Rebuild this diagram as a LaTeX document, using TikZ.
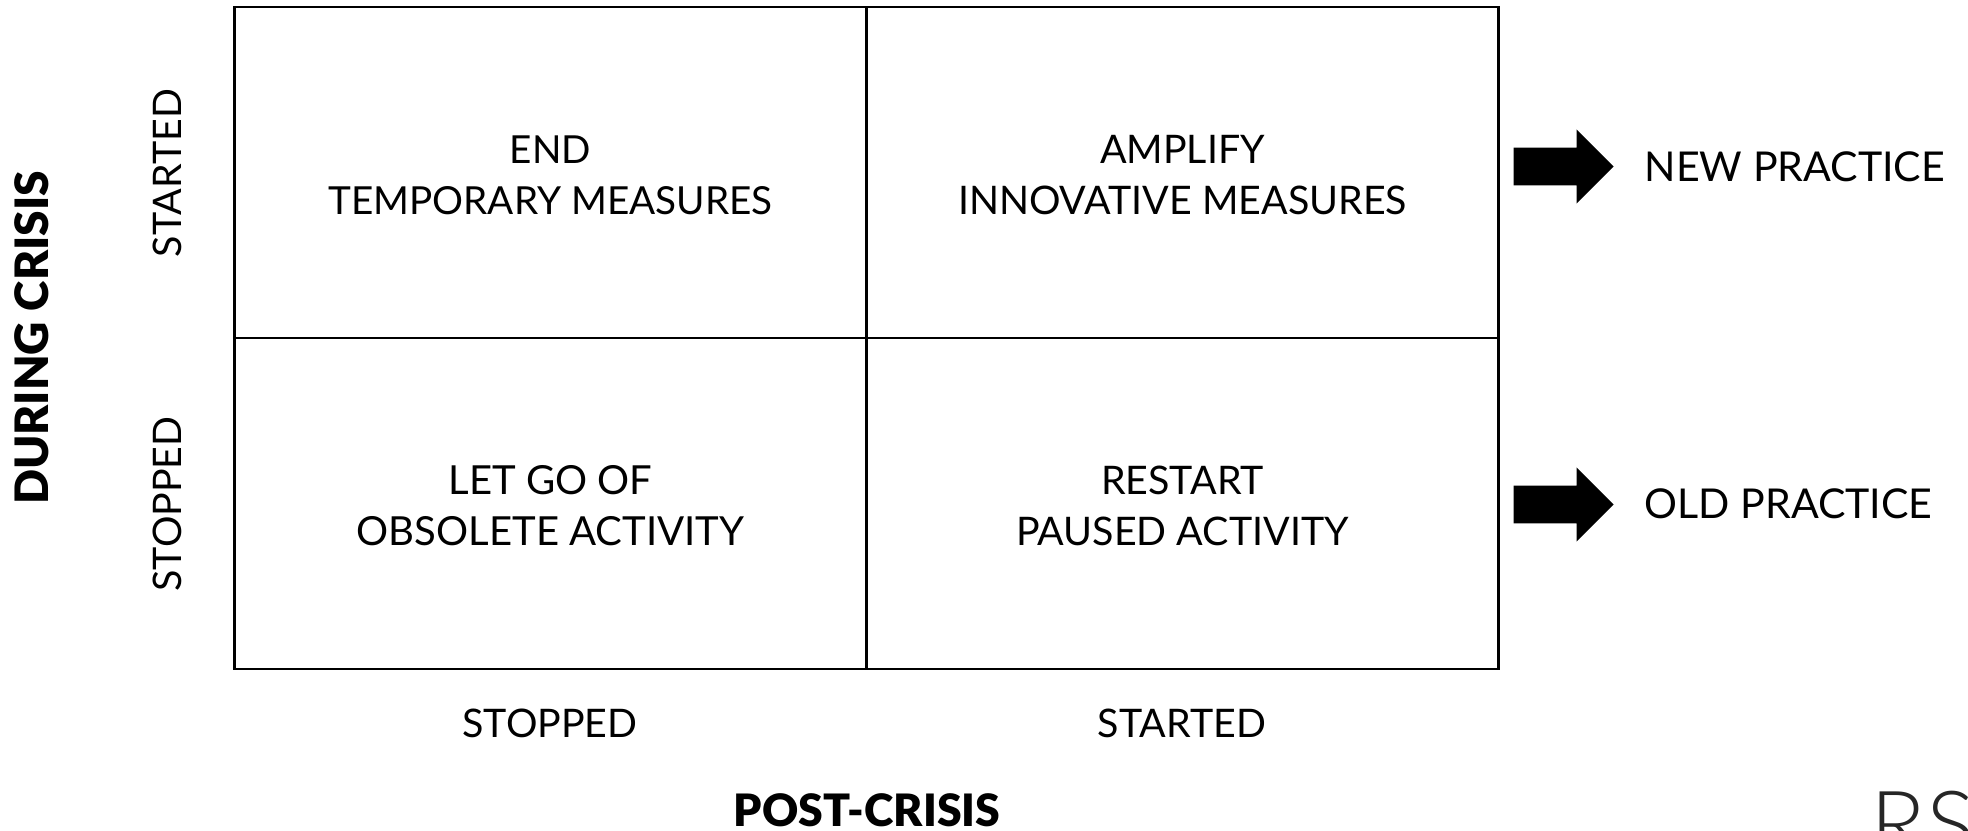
\documentclass[tikz,border=0pt]{standalone}
\usepackage{fontspec}
\setmainfont{Lato}
\newfontfamily\logofont{Lato Light}
\newfontfamily\axisfont{Lato Black}
\usetikzlibrary{shapes.arrows}

\begin{document}
\begin{tikzpicture}
		[auto,
		cell/.style ={rectangle, draw=black, line width=.6pt, minimum width=6.32cm, minimum height=3.31cm, inner sep=0pt, align=center, text height=23.8pt, text depth=0pt, font=\fontsize{11.2}{14.5}\selectfont},
		plain/.style ={inner sep=0pt, font=\fontsize{11.2}{14.5}\selectfont},
		practice/.style ={plain, anchor=west, font=\fontsize{11.7}{14.5}\selectfont},
		axis/.style ={inner sep=0pt, font=\axisfont\fontsize{12.7}{14.5}\selectfont},
		bigarrow/.style ={shape=single arrow, fill=black, anchor=tail, inner xsep=0pt, inner ysep=.1825cm, minimum height=1cm, single arrow head extend=.1825cm, single arrow tip angle=90, single arrow head indent=0pt},
		]

		\useasboundingbox (0,0) rectangle (19.68,8.3);

		\draw (5.505,6.575) node[cell,font=\fontsize{11}{14.5}\selectfont] (End) {END\\TEMPORARY MEASURES};
		\draw (11.825,6.575) node[cell] (Amplify) {AMPLIFY\\INNOVATIVE MEASURES};
		\draw (5.505,3.265) node[cell,font=\fontsize{11.4}{14.5}\selectfont] (LetGo) {LET GO OF\\OBSOLETE ACTIVITY};
		\draw (11.825,3.265) node[cell] (Restart) {RESTART\\PAUSED ACTIVITY};

		\draw (1.67,6.57) node[plain,rotate=90] (rowstarted) {STARTED};
		\draw (1.67,3.26) node[plain,rotate=90] (rowstopped) {STOPPED};
		\draw (5.5,1.07) node[plain] (colstopped) {STOPPED};
		\draw (11.82,1.07) node[plain] (colstarted) {STARTED};

		\draw (0.32,4.92) node[axis,rotate=90,font=\axisfont\fontsize{13.1}{14.5}\selectfont] (during) {DURING CRISIS};
		\draw (8.67,0.2) node[axis] (post) {POST-CRISIS};

		\draw (15.13,6.635) node[bigarrow] (newarrow) {};
		\draw (15.13,3.255) node[bigarrow] (oldarrow) {};

		\draw (16.44,6.63) node[practice] (newpractice) {NEW PRACTICE};
		\draw (16.44,3.26) node[practice] (oldpractice) {OLD PRACTICE};

		\draw (18.70,-0.26) node[anchor=base west,inner sep=0pt,text=black!85,font=\logofont\fontsize{26}{30}\selectfont] (logo) {RS};
	\end{tikzpicture}
\end{document}
